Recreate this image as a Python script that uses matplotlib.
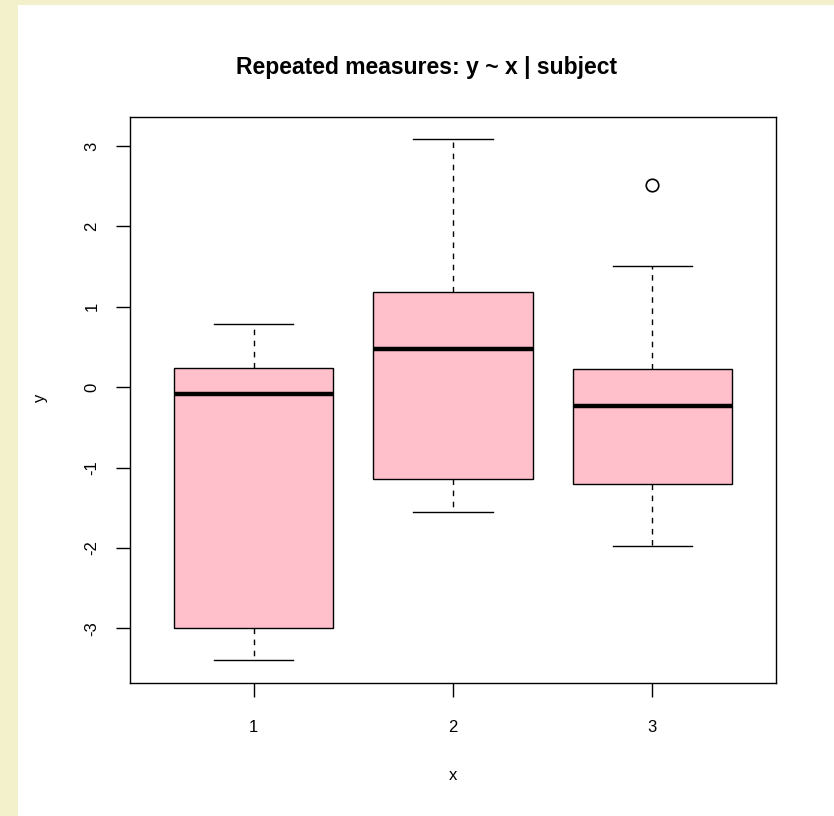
import matplotlib
matplotlib.use("Agg")
import matplotlib.pyplot as plt
from matplotlib.patches import Rectangle

# ---- data ----
groups = ["1", "2", "3"]
whislo = [-3.40, -1.55, -1.97]
q1 = [-3.00, -1.14, -1.20]
med = [-0.09, 0.48, -0.235]
q3 = [0.24, 1.18, 0.23]
whishi = [0.78, 3.09, 1.51]
fliers = [[], [], [2.51]]
yticks = [-3, -2, -1, 0, 1, 2, 3]

plt.rcParams['font.family'] = ['Liberation Sans', 'DejaVu Sans']

W, H = 834, 816
fig = plt.figure(figsize=(W / 100, H / 100), dpi=100)
fig.patch.set_facecolor('#f3f0cc')
# white panel (beige strip on left and top)
panel = Rectangle((18 / W, 0), 1 - 18 / W, 1 - 5 / H,
                  transform=fig.transFigure, facecolor='white',
                  edgecolor='none', zorder=-10)
fig.patches.append(panel)

l, r, t, b = 130, 776, 117, 683
ax = fig.add_axes([l / W, 1 - b / H, (r - l) / W, (b - t) / H])
ax.set_facecolor('white')

stats = []
for i in range(3):
    stats.append(dict(whislo=whislo[i], q1=q1[i], med=med[i], q3=q3[i],
                      whishi=whishi[i], fliers=fliers[i], label=groups[i]))

ax.bxp(stats, positions=[1, 2, 3], widths=0.8, patch_artist=True,
       boxprops=dict(facecolor='#ffc0cb', edgecolor='black', linewidth=1.0),
       medianprops=dict(color='black', linewidth=3.2, solid_capstyle='butt'),
       whiskerprops=dict(color='black', linewidth=1.0, linestyle=(0, (4, 4))),
       capprops=dict(color='black', linewidth=1.0),
       capwidths=0.4,
       flierprops=dict(marker='o', markerfacecolor='none', markeredgecolor='black',
                       markersize=9, markeredgewidth=1.2))

ax.set_xlim(0.38, 3.62)
ax.set_ylim(-3.68, 3.36)
ax.set_yticks(yticks)
ax.set_yticklabels([str(v) for v in yticks], rotation=90, va='center')
ax.set_xticks([1, 2, 3])
ax.set_xticklabels(groups)

for s in ax.spines.values():
    s.set_linewidth(1.0)
    s.set_color('black')

ax.tick_params(axis='both', direction='out', length=10, width=1.0,
               labelsize=12, colors='black')
ax.tick_params(axis='x', pad=17)
ax.tick_params(axis='y', pad=12)

fig.text(236 / W, 1 - 74 / H, "Repeated measures: y ~ x | subject",
         ha='left', va='baseline', fontsize=16.5, fontweight='bold')
fig.text(453 / W, 1 - 775 / H, "x", ha='center', va='center', fontsize=12)
fig.text(40 / W, 1 - 398 / H, "y", ha='center', va='center', fontsize=12,
         rotation=90)

fig.savefig("out.png", dpi=100)
